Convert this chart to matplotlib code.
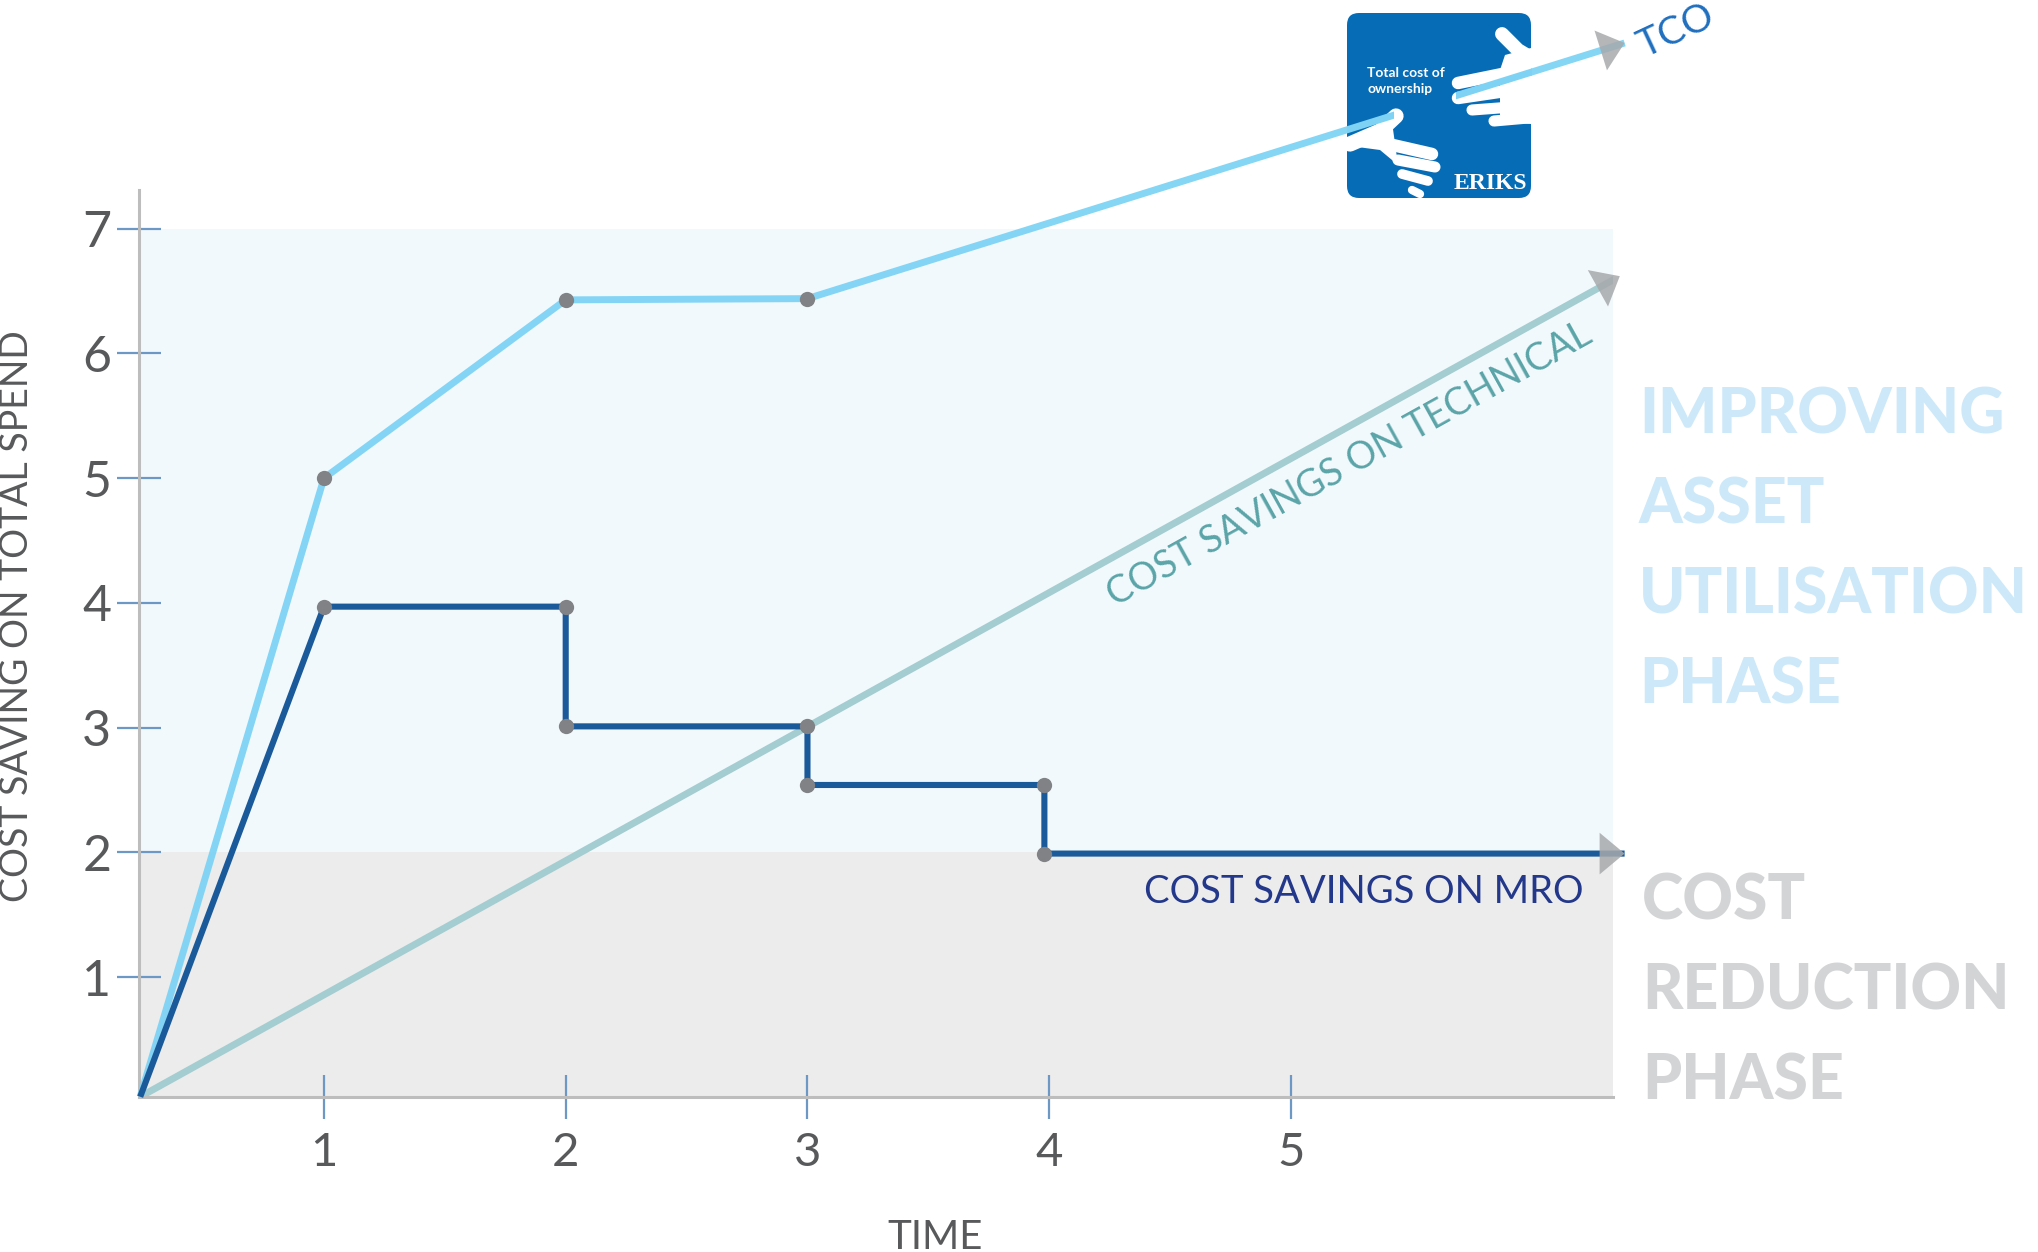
import math
import matplotlib
matplotlib.use('Agg')
import matplotlib.pyplot as plt
from matplotlib.lines import Line2D
from matplotlib.patches import FancyBboxPatch, FancyArrowPatch, Polygon, Rectangle

# === values ===
time_ticks = [1, 2, 3, 4, 5]
saving_ticks = [1, 2, 3, 4, 5, 6, 7]
phase_edges = [0, 2, 7]  # cost reduction 0-2, asset utilisation 2-7

tco_x = [0.24, 1, 2, 3, 6.38]
tco_y = [0.04, 5.0, 6.43, 6.44, 8.49]
tco_dot_x = [1, 2, 3]
tco_dot_y = [5.0, 6.43, 6.44]

mro_x = [0.24, 1, 2, 2, 3, 3, 3.98, 3.98, 6.38]
mro_y = [0.04, 3.97, 3.97, 3.01, 3.01, 2.54, 2.54, 1.99, 1.99]
mro_dot_x = [1, 2, 2, 3, 3, 3.98, 3.98]
mro_dot_y = [3.97, 3.97, 3.01, 3.01, 2.54, 2.54, 1.99]

tech_x = [0.24, 6.36]
tech_y = [0.04, 6.62]

improving_lines = ["IMPROVING", "ASSET", "UTILISATION", "PHASE"]
reduction_lines = ["COST", "REDUCTION", "PHASE"]

# === layout helpers (pixel coords measured from the top-left) ===
W, H = 2038, 1252
plt.rcParams['font.family'] = ['Lato', 'DejaVu Sans']

def fx(x):
    return x / W

def fy(y):
    return 1 - y / H

def inch(x, y):
    return (x / 100.0, (H - y) / 100.0)

fig = plt.figure(figsize=(W / 100, H / 100), dpi=100)
fig.patch.set_facecolor('white')
ax = fig.add_axes([fx(139), fy(1097), (1613 - 139) / W, (1097 - 190) / H])
ax.set_xlim(0.235, 6.332)
ax.set_ylim(0.038, 7.311)
ax.set_facecolor('none')

# phase bands
ax.axhspan(phase_edges[0] - 1, phase_edges[1], color='#ececec', lw=0, zorder=0)
ax.axhspan(phase_edges[1], phase_edges[2], color='#f2f9fd', lw=0, zorder=0)

for s in ['top', 'right']:
    ax.spines[s].set_visible(False)
for s in ['left', 'bottom']:
    ax.spines[s].set_color('#bdbdbd')
    ax.spines[s].set_linewidth(2.2)

ax.set_xticks(time_ticks)
ax.set_yticks(saving_ticks)
ax.tick_params(direction='inout', length=32, width=1.6, color='#6d98c5',
               labelcolor='#58595b')
ax.tick_params(axis='x', labelsize=34, pad=9)
ax.tick_params(axis='y', labelsize=36, pad=4)

# series
ax.plot(tech_x, tech_y, color='#a3cdd0', lw=5, solid_capstyle='butt', zorder=2)
ax.plot(tco_x, tco_y, color='#7ed3f5', lw=5, alpha=0.95, solid_joinstyle='miter',
        solid_capstyle='butt', zorder=3, clip_on=False)
ax.plot(mro_x, mro_y, color='#1b5a9a', lw=4.4, solid_joinstyle='miter',
        solid_capstyle='butt', zorder=4, clip_on=False)
ax.plot(tco_dot_x, tco_dot_y, 'o', color='#808285', ms=11, mew=0, zorder=6)
ax.plot(mro_dot_x, mro_dot_y, 'o', color='#808285', ms=11, mew=0, zorder=6)

# arrow heads at the end of each series
for xs, ys in [(tco_x, tco_y), (mro_x, mro_y), (tech_x, tech_y)]:
    x1, y1 = xs[-1], ys[-1]
    x0 = x1 - 0.02 * (xs[-1] - xs[-2])
    y0 = y1 - 0.02 * (ys[-1] - ys[-2])
    head = FancyArrowPatch((x0, y0), (x1, y1), arrowstyle='-|>,head_length=18,head_width=15',
                           mutation_scale=1, color='#a7a9ac', alpha=0.85, lw=0,
                           shrinkA=0, shrinkB=0, zorder=7, clip_on=False)
    ax.add_patch(head)

# line labels
p0 = ax.transData.transform((tech_x[0], tech_y[0]))
p1 = ax.transData.transform((tech_x[-1], tech_y[-1]))
tech_angle = math.degrees(math.atan2(p1[1] - p0[1], p1[0] - p0[0]))
fig.text(fx(1349), fy(464), 'COST SAVINGS ON TECHNICAL', rotation=tech_angle,
         rotation_mode='anchor', ha='center', va='center', fontsize=27, color='#5aa4a8')
fig.text(fx(1583), fy(903), 'COST SAVINGS ON MRO', ha='right', va='baseline',
         fontsize=27.5, color='#23388a')
fig.text(fx(1676), fy(31), 'TCO', rotation=25, rotation_mode='anchor', ha='center',
         va='center', fontsize=28, color='#1f6fbf')

# axis titles
fig.text(fx(17), fy(616), 'COST SAVING ON TOTAL SPEND', rotation=90, ha='center',
         va='center', fontsize=27, color='#58595b')
fig.text(fx(935), fy(1249), 'TIME', ha='center', va='baseline', fontsize=29, color='#58595b')

# phase titles
for i, t in enumerate(improving_lines):
    fig.text(fx(1639), fy(433 + 90 * i), t, ha='left', va='baseline', fontsize=45,
             fontweight='black', color='#cde9f9')
for i, t in enumerate(reduction_lines):
    fig.text(fx(1642), fy(920 + 90 * i), t, ha='left', va='baseline', fontsize=45,
             fontweight='black', color='#d3d4d6')

# === ERIKS "Total cost of ownership" badge ===
bx, by = inch(1347, 198)
badge = FancyBboxPatch((bx, by), 1.84, 1.85, boxstyle='round,pad=0,rounding_size=0.12',
                       transform=fig.dpi_scale_trans, facecolor='#066cb6', lw=0, zorder=3)
fig.add_artist(badge)

def finger(pts, w):
    xs = [inch(*p)[0] for p in pts]
    ys = [inch(*p)[1] for p in pts]
    ln = Line2D(xs, ys, transform=fig.dpi_scale_trans, color='white', lw=w,
                solid_capstyle='round', solid_joinstyle='round', zorder=4)
    fig.add_artist(ln)

# upper right hand
finger([(1502, 34), (1518, 50), (1528, 56)], 10)
finger([(1458, 83), (1512, 72)], 9)
finger([(1458, 98), (1512, 90)], 9)
finger([(1472, 110), (1512, 107)], 8)
finger([(1494, 121), (1528, 118)], 8)
palm = Polygon([inch(1505, 55), inch(1531, 48), inch(1531, 124), inch(1500, 122), inch(1500, 70)],
               closed=True, transform=fig.dpi_scale_trans, facecolor='white', lw=0, zorder=4)
fig.add_artist(palm)
# lower left hand
finger([(1396, 116), (1380, 131), (1350, 144)], 11)
finger([(1384, 143), (1432, 154)], 9)
finger([(1398, 160), (1435, 167)], 8)
finger([(1402, 174), (1428, 181)], 7)
finger([(1412, 190), (1420, 194)], 6)
palm2 = Polygon([inch(1350, 146), inch(1392, 122), inch(1398, 165), inch(1380, 150)],
                closed=True, transform=fig.dpi_scale_trans, facecolor='white', lw=0, zorder=4)
fig.add_artist(palm2)

# TCO line passes over the badge where the hands hold it
for x0, x1 in [(1347, 1394), (1456, 1532)]:
    clip = Rectangle(inch(x0, 200), (x1 - x0) / 100, 2.0, transform=fig.dpi_scale_trans)
    held = Line2D(tco_x, tco_y, transform=ax.transData, color='#7ed3f5', lw=5, zorder=5)
    fig.add_artist(held)
    held.set_clip_path(clip)

fig.text(fx(1367), fy(77), 'Total cost of', fontsize=10, fontweight='bold', color='white', zorder=6)
fig.text(fx(1367), fy(93), 'ownership', fontsize=10, fontweight='bold', color='white', zorder=6)
fig.text(fx(1490), fy(189), 'ERIKS', ha='center', va='baseline', fontsize=17,
         fontweight='bold', family=['Liberation Serif', 'DejaVu Serif'], color='white', zorder=6)

fig.savefig('out.png', dpi=100)
